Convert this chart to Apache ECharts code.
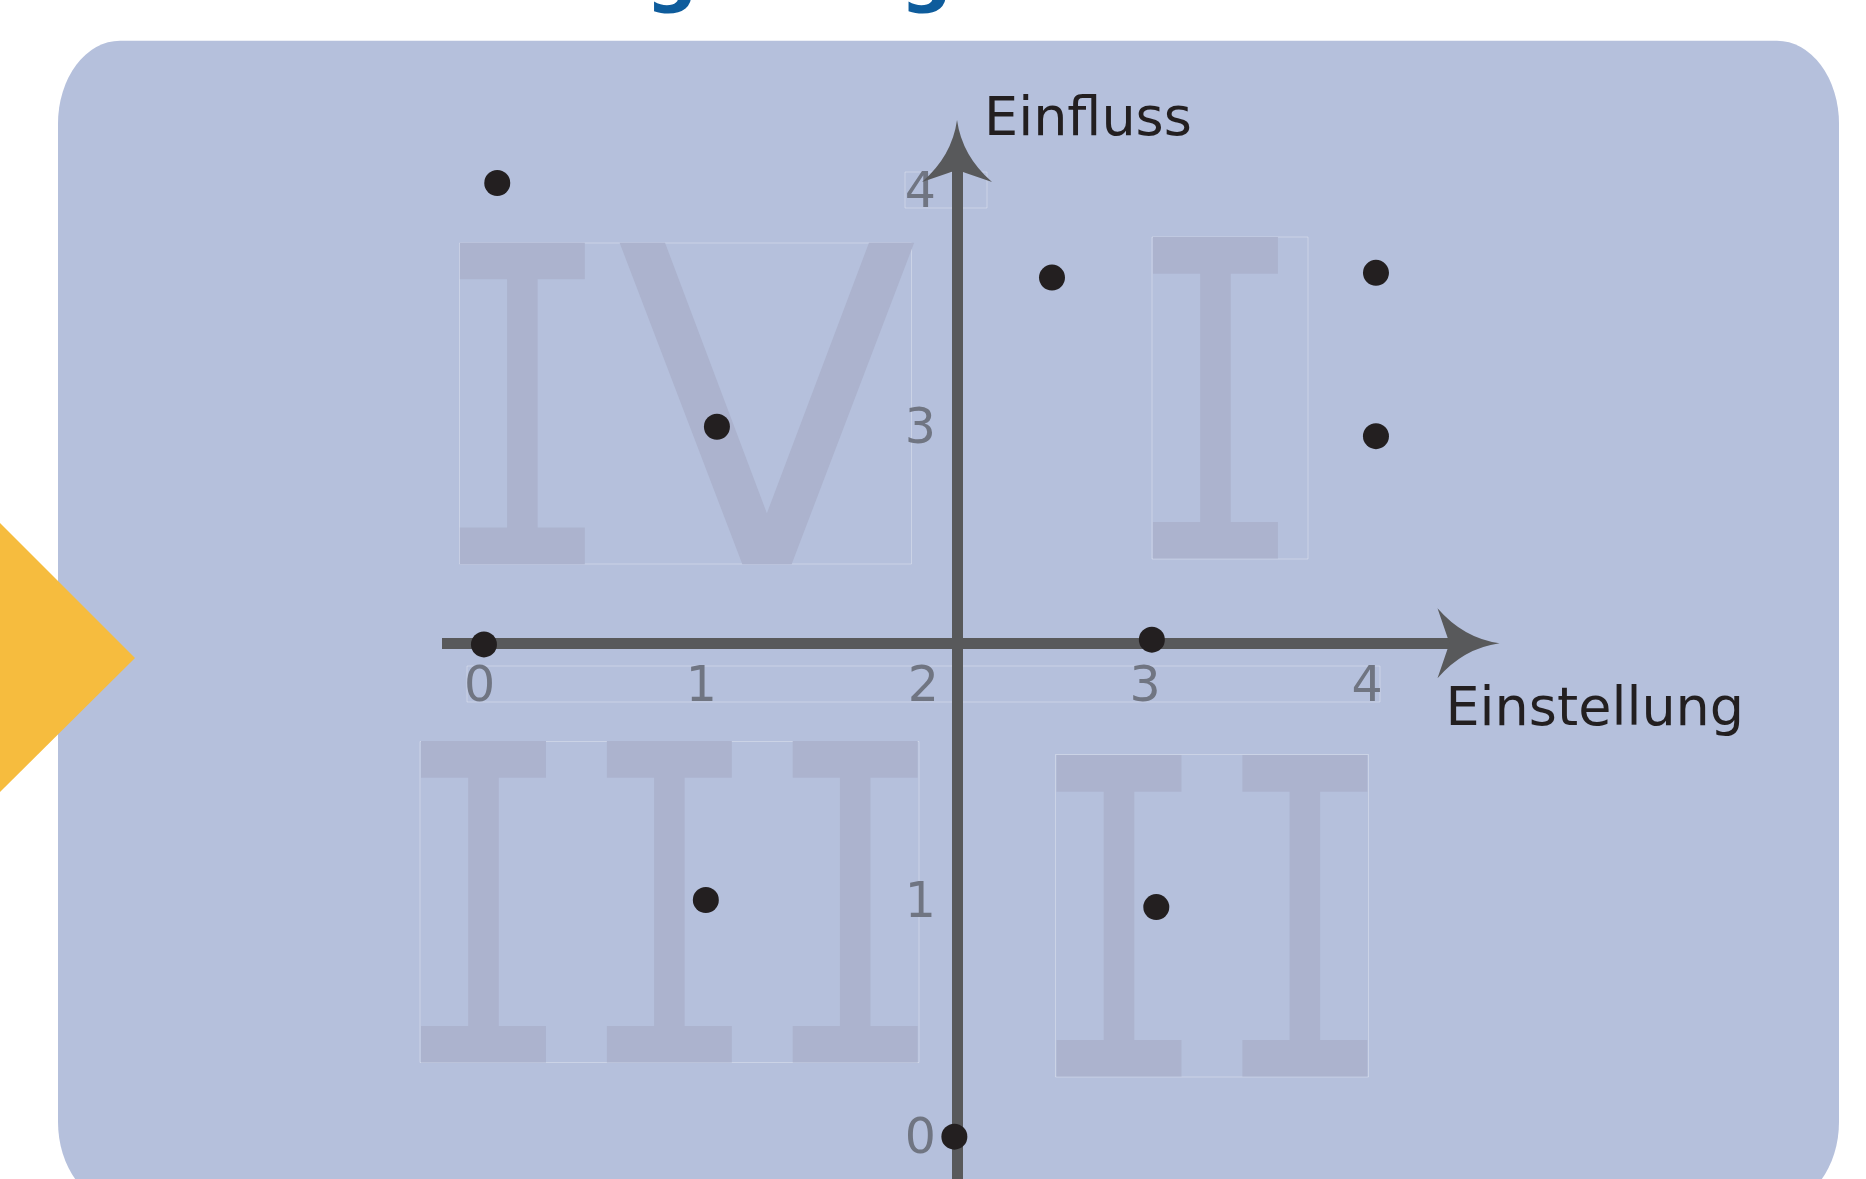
<!DOCTYPE html>
<html>
<head>
<meta charset="utf-8">
<title>Einstellung und Einfluss</title>
<script src="https://cdn.jsdelivr.net/npm/echarts@6/dist/echarts.min.js"></script>
<style>
  html, body { margin: 0; padding: 0; background: #fff; }
  #chart { width: 1866px; height: 1179px; }
</style>
</head>
<body>
<div id="chart"></div>
<script>
// Stakeholder: Einstellung (x) und Einfluss (y)
const einstellung = [0.08, 2.58, 4.04, 1.07, 4.04, 0.02, 3.03, 1.02, 3.05, 2.14];
const einfluss = [4.03, 3.63, 3.65, 3.0, 2.96, 2.08, 2.1, 1.0, 0.97, 0];

const xTicks = [0, 1, 2, 3, 4];
const yTicks = [0, 1, 3, 4];

// sichtbarer Wertebereich der Achsen und Kreuzungspunkt
const xRange = [-0.169, 4.457];
const yRange = [-0.179, 4.165];
const cross = [2.152, 2.085];

const textColor = "#231f20";
const axisColor = "#58595b";
const tickColor = "#707582";
const numeralColor = "#acb3ce";
const arrowPath = "path://M35,0 Q40,36 70,62 L35,50 L0,62 Q30,36 35,0 Z";

const chart = echarts.init(document.getElementById("chart"));

const buildAxisLine = () => ({
  onZero: false,
  symbol: ["none", arrowPath],
  symbolSize: [70, 62],
  lineStyle: { color: axisColor, width: 11, cap: "butt" }
});

const buildLabel = (values, margin) => ({
  customValues: values,
  margin,
  color: tickColor,
  fontSize: 49,
  lineHeight: 49,
  fontFamily: "DejaVu Sans"
});

const numeral = (text, family, x, y, scaleX) => ({
  type: "text",
  z: -8,
  x,
  y,
  scaleX,
  silent: true,
  style: {
    text,
    fill: numeralColor,
    fontSize: 441,
    fontFamily: family,
    align: "center",
    verticalAlign: "middle",
    textAlign: "center",
    textVerticalAlign: "middle"
  }
});

const outline = (x1, y1, x2, y2) => ({
  type: "rect",
  z: -9,
  silent: true,
  shape: { x: x1, y: y1, width: x2 - x1, height: y2 - y1 },
  style: { fill: "none", stroke: "rgba(255, 255, 255, 0.3)", lineWidth: 1 }
});

const cornerStretch = 83 / 62;

chart.setOption({
  animation: false,
  grid: {
    left: 442,
    right: 397.5,
    top: 151,
    bottom: 0,
    containLabel: false,
    outerBoundsMode: "none"
  },
  xAxis: {
    type: "value",
    position: "bottom",
    min: xRange[0],
    max: xRange[1],
    axisLine: buildAxisLine(),
    axisTick: { show: false },
    splitLine: { show: false },
    axisLabel: buildLabel(xTicks, 20.5),
    name: "Einstellung",
    nameLocation: "end",
    nameGap: -23,
    nameMoveOverlap: false,
    nameTextStyle: {
      color: textColor,
      fontSize: 54,
      fontFamily: "DejaVu Sans",
      align: "left",
      verticalAlign: "top",
      lineHeight: 136
    }
  },
  yAxis: {
    type: "value",
    position: "left",
    min: yRange[0],
    max: yRange[1],
    axisLine: buildAxisLine(),
    axisTick: { show: false },
    splitLine: { show: false },
    axisLabel: { ...buildLabel(yTicks, 21), verticalAlign: "top", lineHeight: 8 },
    name: "Einfluss",
    nameLocation: "end",
    nameGap: 30,
    nameMoveOverlap: false,
    nameTextStyle: {
      color: textColor,
      fontSize: 54,
      fontFamily: "DejaVu Sans",
      align: "left",
      verticalAlign: "middle",
      padding: [0, 0, 0, 27]
    }
  },
  series: [
    {
      type: "scatter",
      symbolSize: 26,
      silent: true,
      itemStyle: { color: textColor, opacity: 1 },
      data: einstellung.map((x, i) => [x, einfluss[i]])
    }
  ],
  graphic: [
    {
      type: "rect",
      z: -20,
      silent: true,
      x: 58,
      y: 40.7,
      scaleY: cornerStretch,
      shape: { x: 0, y: 0, width: 1781, height: 1164 / cornerStretch, r: 62 },
      style: { fill: "#b5c0dc" }
    },
    {
      type: "polygon",
      z: -5,
      silent: true,
      shape: { points: [[0, 523], [135, 658], [0, 792]] },
      style: { fill: "#f6bc3e" }
    },
    {
      type: "text",
      z: -5,
      silent: true,
      x: 952,
      y: -21,
      style: {
        text: "Stakeholder-Umgebung",
        fill: "#0e5c9c",
        fontSize: 72,
        fontWeight: "bold",
        fontFamily: "DejaVu Sans",
        align: "right",
        verticalAlign: "middle",
        textAlign: "right",
        textVerticalAlign: "middle"
      }
    },
    outline(459.5, 243, 911.5, 564),
    outline(1152, 237, 1308, 559),
    outline(420, 741.5, 919, 1062.5),
    outline(1055.5, 754.5, 1368.5, 1077),
    outline(467, 666, 1380, 702),
    outline(905, 172, 987, 208),
    numeral("I", "DejaVu Sans Mono", 522.5, 449.6, 0.7),
    numeral("V", "DejaVu Sans", 767, 449.6, 1),
    numeral("I", "DejaVu Sans Mono", 1215.6, 444, 0.7),
    numeral("III", "DejaVu Sans Mono", 669.5, 948, 0.7),
    numeral("II", "DejaVu Sans Mono", 1212.1, 962, 0.7)
  ]
});

// die Achsen kreuzen sich im Punkt "cross": Versatz aus den Skalen ableiten
const crossPx = chart.convertToPixel({ gridIndex: 0 }, cross);
const leftPx = chart.convertToPixel({ xAxisIndex: 0 }, xRange[0]);
const bottomPx = chart.convertToPixel({ yAxisIndex: 0 }, yRange[0]);

chart.setOption({
  xAxis: { offset: crossPx[1] - bottomPx },
  yAxis: { offset: leftPx - crossPx[0] }
});
</script>
</body>
</html>
